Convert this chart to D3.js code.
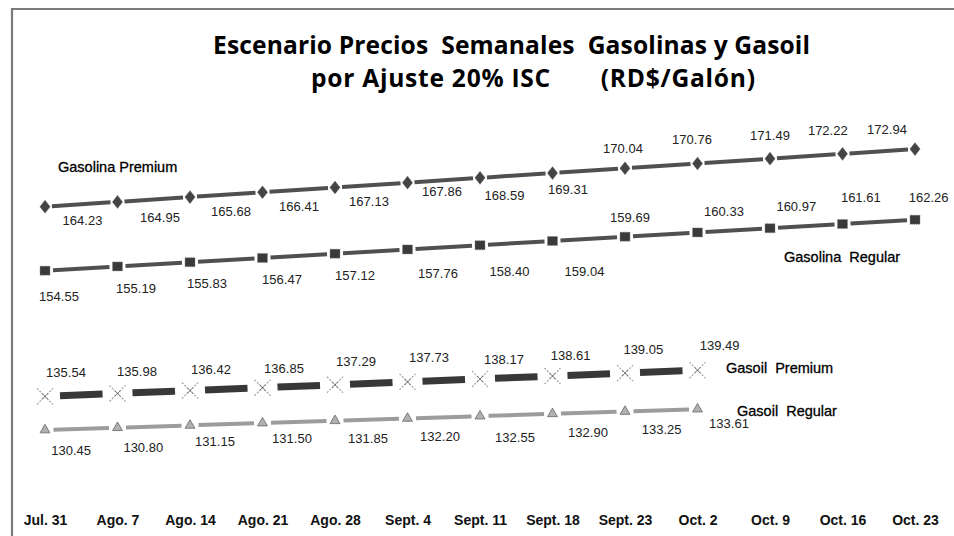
<!DOCTYPE html>
<html>
<head>
<meta charset="utf-8">
<script src="https://cdn.jsdelivr.net/npm/d3@7"></script>
<style>
  html, body { margin: 0; padding: 0; background: #fff; }
  svg { display: block; }
  text { white-space: pre; }
</style>
</head>
<body>
<svg id="chart" width="954" height="536"></svg>
<script>
// ---------------- DATA ----------------
const dates = ["Jul. 31", "Ago. 7", "Ago. 14", "Ago. 21", "Ago. 28", "Sept. 4", "Sept. 11",
               "Sept. 18", "Sept. 23", "Oct. 2", "Oct. 9", "Oct. 16", "Oct. 23"];
const gasolinaPremium = [164.23, 164.95, 165.68, 166.41, 167.13, 167.86, 168.59, 169.31, 170.04, 170.76, 171.49, 172.22, 172.94];
const gasolinaRegular = [154.55, 155.19, 155.83, 156.47, 157.12, 157.76, 158.40, 159.04, 159.69, 160.33, 160.97, 161.61, 162.26];
const gasoilPremium   = [135.54, 135.98, 136.42, 136.85, 137.29, 137.73, 138.17, 138.61, 139.05, 139.49];
const gasoilRegular   = [130.45, 130.80, 131.15, 131.50, 131.85, 132.20, 132.55, 132.90, 133.25, 133.61];
const seriesNames = ["Gasolina Premium", "Gasolina  Regular", "Gasoil  Premium", "Gasoil  Regular"];
const titleLines = ["Escenario Precios  Semanales  Gasolinas y Gasoil", "por Ajuste 20% ISC       (RD$/Galón)"];

// ---------------- LAYOUT (label offsets relative to each point, px) ----------------
const offGP = [[37.5,14],[42.5,16],[41,14.7],[36.5,14.5],[34,13.6],[34.5,8.4],[24.5,17.2],[15.5,16],[-2,-20],[-5.5,-24.4],[0,-23.6],[-14.7,-23],[-28,-19.7]];
const offGR = [[14,26],[18.5,21.6],[17,20.8],[19.5,22],[20,22],[30.5,24.5],[29.5,25.8],[32,31],[5,-18.7],[26.5,-21.4],[26.3,-21.5],[18.3,-26.7],[13.7,-22.4]];
const offOP = [[21,-23.7],[19.5,-21.8],[21,-20.6],[21.5,-19],[21,-23.1],[21.5,-24.6],[24,-19.7],[18.2,-20.1],[18.3,-23.9],[22.2,-24.3]];
const offOR = [[26.2,20],[25.8,20],[25,16.6],[29.5,15.9],[33,18.2],[32.5,18.5],[35,20.9],[35.5,18.2],[36.7,18.5],[31.5,14.2]];
const nameLabelPos = [[58,167],[784,257],[726,368],[737,411]];
const titleBoxes = [[213, 44, 597], [311, 77, 444]]; // left x, centre y, width

const svg = d3.select("#chart");

const x = d3.scalePoint().domain(dates).range([45, 915]);
const y = d3.scaleLinear().domain([120, 180]).range([499.1, 102.4]);

// frame
svg.append("path")
  .attr("d", "M12,536 V9 H954")
  .attr("fill", "none").attr("stroke", "#7a7a7a").attr("stroke-width", 2.2);

// title
titleLines.forEach((t, i) => {
  svg.append("text")
    .attr("x", titleBoxes[i][0]).attr("y", titleBoxes[i][1])
    .attr("dominant-baseline", "central")
    .attr("textLength", titleBoxes[i][2]).attr("lengthAdjust", "spacing")
    .attr("font-family", "'Open Sans', sans-serif").attr("font-weight", "bold").attr("font-size", 24.6)
    .attr("fill", "#000").text(t);
});

// x axis
const xAxis = svg.append("g").attr("transform", "translate(0,515)")
  .call(d3.axisBottom(x).tickSize(0).tickPadding(0));
xAxis.select(".domain").remove();
xAxis.selectAll("text")
  .attr("font-family", "'Liberation Sans', Arial, sans-serif").attr("font-weight", "bold")
  .attr("font-size", 14).attr("fill", "#111");

function segments(g, vals, shorten, color, width) {
  for (let i = 0; i < vals.length - 1; i++) {
    const x1 = x(dates[i]), y1 = y(vals[i]), x2 = x(dates[i + 1]), y2 = y(vals[i + 1]);
    const dx = x2 - x1, dy = y2 - y1, L = Math.hypot(dx, dy);
    const ux = dx / L, uy = dy / L;
    g.append("line")
      .attr("x1", x1 + ux * shorten).attr("y1", y1 + uy * shorten)
      .attr("x2", x2 - ux * shorten).attr("y2", y2 - uy * shorten)
      .attr("stroke", color).attr("stroke-width", width);
  }
}

function valueLabels(g, vals, offs) {
  g.selectAll("text.val").data(vals).enter().append("text")
    .attr("class", "val")
    .attr("x", (d, i) => x(dates[i]) + offs[i][0])
    .attr("y", (d, i) => y(d) + offs[i][1])
    .attr("text-anchor", "middle").attr("dominant-baseline", "central")
    .attr("font-family", "'Liberation Sans', Arial, sans-serif").attr("font-size", 13)
    .attr("fill", "#222")
    .text(d => d.toFixed(2));
}

// Gasolina Premium
const gGP = svg.append("g");
segments(gGP, gasolinaPremium, 7, "#505050", 4);
gGP.selectAll("path.m").data(gasolinaPremium).enter().append("path")
  .attr("d", d3.symbol().type(d3.symbolDiamond).size(56))
  .attr("transform", (d, i) => `translate(${x(dates[i])},${y(d)}) scale(1.3,0.95)`)
  .attr("fill", "#444").attr("stroke", "#888").attr("stroke-width", 0.5).attr("stroke-dasharray", "1,1");
valueLabels(gGP, gasolinaPremium, offGP);

// Gasolina Regular
const gGR = svg.append("g");
segments(gGR, gasolinaRegular, 8, "#505050", 4);
gGR.selectAll("rect.m").data(gasolinaRegular).enter().append("rect")
  .attr("x", (d, i) => x(dates[i]) - 5).attr("y", d => y(d) - 4.5)
  .attr("width", 10).attr("height", 9)
  .attr("fill", "#3a3a3a").attr("stroke", "#888").attr("stroke-width", 0.8).attr("stroke-dasharray", "1,1");
valueLabels(gGR, gasolinaRegular, offGR);

// Gasoil Premium
const gOP = svg.append("g");
segments(gOP, gasoilPremium, 15, "#383838", 7);
gasoilPremium.forEach((v, i) => {
  const cx = x(dates[i]), cy = y(v), r = 8;
  gOP.append("path")
    .attr("d", `M${cx - r},${cy - r}L${cx + r},${cy + r}M${cx - r},${cy + r}L${cx + r},${cy - r}`)
    .attr("stroke", "#a8a8a8").attr("stroke-width", 1.3).attr("stroke-dasharray", "2,1.5").attr("fill", "none");
  gOP.append("path")
    .attr("d", `M${cx - 3},${cy - 3}L${cx + 3},${cy + 3}M${cx - 3},${cy + 3}L${cx + 3},${cy - 3}`)
    .attr("stroke", "#666").attr("stroke-width", 0.8).attr("fill", "none");
});
valueLabels(gOP, gasoilPremium, offOP);

// Gasoil Regular
const gOR = svg.append("g");
segments(gOR, gasoilRegular, 8.5, "#9c9c9c", 4);
gOR.selectAll("path.m").data(gasoilRegular).enter().append("path")
  .attr("d", d3.symbol().type(d3.symbolTriangle).size(42))
  .attr("transform", (d, i) => `translate(${x(dates[i])},${y(d)})`)
  .attr("fill", "#b0b0b0").attr("stroke", "#666").attr("stroke-width", 0.8);
valueLabels(gOR, gasoilRegular, offOR);

// series names
svg.selectAll("text.name").data(seriesNames).enter().append("text")
  .attr("class", "name")
  .attr("x", (d, i) => nameLabelPos[i][0]).attr("y", (d, i) => nameLabelPos[i][1])
  .attr("dominant-baseline", "central")
  .attr("font-family", "'Liberation Sans', Arial, sans-serif").attr("font-size", 14.5)
  .attr("fill", "#000").attr("stroke", "#000").attr("stroke-width", 0.3)
  .text(d => d);
</script>
</body>
</html>
